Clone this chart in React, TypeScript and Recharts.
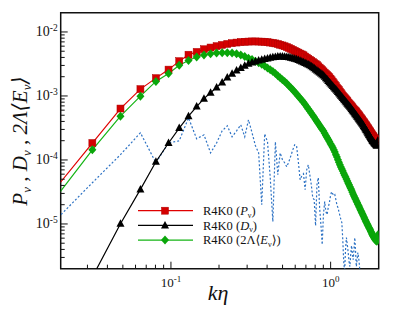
import { ComposedChart, Line, XAxis, YAxis, ReferenceArea } from "recharts";

// wavenumber grid k*eta
const K = [
  0.0161, 0.0322, 0.0483, 0.0644, 0.0805, 0.0966, 0.1127, 0.1288, 0.1449, 0.161,
  0.1771, 0.1932, 0.2093, 0.2254, 0.2415, 0.2576, 0.2737, 0.2898, 0.3059, 0.322,
  0.3381, 0.3542, 0.3703, 0.3864, 0.4025, 0.4186, 0.4347, 0.4508, 0.4669, 0.483,
  0.4991, 0.5152, 0.5313, 0.5474, 0.5635, 0.5796, 0.5957, 0.6118, 0.6279, 0.644,
  0.6601, 0.6762, 0.6923, 0.7084, 0.7245, 0.7406, 0.7567, 0.7728, 0.7889, 0.805,
  0.8211, 0.8372, 0.8533, 0.8694, 0.8855, 0.9016, 0.9177, 0.9338, 0.9499, 0.966,
  0.9821, 0.9982, 1.0143, 1.0304, 1.0465, 1.0626, 1.0787, 1.0948, 1.1109, 1.127,
  1.1431, 1.1592, 1.1753, 1.1914, 1.2075, 1.2236, 1.2397, 1.2558, 1.2719, 1.288,
  1.3041, 1.3202, 1.3363, 1.3524, 1.3685, 1.3846, 1.4007, 1.4168, 1.4329, 1.449,
  1.4651, 1.4812, 1.4973, 1.5134, 1.5295, 1.5456, 1.5617, 1.5778, 1.5939, 1.61,
  1.6261, 1.6422, 1.6583, 1.6744, 1.6905, 1.7066, 1.7227, 1.7388, 1.7549, 1.771,
  1.7871, 1.8032, 1.8193, 1.8354, 1.8515, 1.8676, 1.8837, 1.8998, 1.9159, 1.932,
  1.9481, 1.9642, 1.9803,
];

// R4K0 (P_nu)
const P_NU = [
  2.18e-5, 1.84e-4, 6.36e-4, 1.28e-3, 1.9e-3, 2.58e-3, 3.5e-3, 4.41e-3, 4.88e-3, 5.37e-3,
  5.71e-3, 6.0e-3, 6.27e-3, 6.5e-3, 6.69e-3, 6.83e-3, 6.96e-3, 7.03e-3, 7.08e-3, 7.11e-3,
  7.11e-3, 7.08e-3, 7.06e-3, 7.01e-3, 6.93e-3, 6.83e-3, 6.74e-3, 6.62e-3, 6.48e-3, 6.32e-3,
  6.16e-3, 5.98e-3, 5.81e-3, 5.63e-3, 5.45e-3, 5.26e-3, 5.07e-3, 4.91e-3, 4.75e-3, 4.6e-3,
  4.46e-3, 4.32e-3, 4.13e-3, 3.97e-3, 3.8e-3, 3.67e-3, 3.53e-3, 3.4e-3, 3.27e-3, 3.15e-3,
  3.05e-3, 2.9e-3, 2.77e-3, 2.65e-3, 2.53e-3, 2.42e-3, 2.31e-3, 2.21e-3, 2.13e-3, 2.04e-3,
  1.96e-3, 1.86e-3, 1.76e-3, 1.67e-3, 1.58e-3, 1.5e-3, 1.42e-3, 1.35e-3, 1.29e-3, 1.23e-3,
  1.17e-3, 1.11e-3, 1.06e-3, 1.01e-3, 9.68e-4, 9.31e-4, 8.95e-4, 8.6e-4, 8.27e-4, 7.95e-4,
  7.69e-4, 7.4e-4, 7.14e-4, 6.88e-4, 6.64e-4, 6.4e-4, 6.18e-4, 5.98e-4, 5.79e-4, 5.59e-4,
  5.39e-4, 5.22e-4, 5.0e-4, 4.84e-4, 4.65e-4, 4.49e-4, 4.33e-4, 4.18e-4, 4.03e-4, 3.9e-4,
  3.76e-4, 3.63e-4, 3.5e-4, 3.39e-4, 3.27e-4, 3.15e-4, 3.05e-4, 2.94e-4, 2.84e-4, 2.75e-4,
  2.66e-4, 2.56e-4, 2.48e-4, 2.4e-4, 2.33e-4, 2.25e-4, 2.18e-4, 2.11e-4, 2.05e-4, 1.98e-4,
  1.85e-4, 1.89e-4, 2.1e-4,
];

// R4K0 (D_nu)
const D_NU = [
  8e-8, 1.48e-6, 1.01e-5, 3.47e-5, 9.37e-5, 1.84e-4, 3.15e-4, 4.84e-4, 6.83e-4, 9.08e-4,
  1.12e-3, 1.36e-3, 1.63e-3, 1.95e-3, 2.23e-3, 2.5e-3, 2.74e-3, 2.97e-3, 3.18e-3, 3.33e-3,
  3.45e-3, 3.57e-3, 3.68e-3, 3.78e-3, 3.86e-3, 3.94e-3, 4.02e-3, 4.07e-3, 4.12e-3, 4.13e-3,
  4.13e-3, 4.1e-3, 4.06e-3, 4.02e-3, 3.96e-3, 3.89e-3, 3.82e-3, 3.74e-3, 3.64e-3, 3.54e-3,
  3.45e-3, 3.37e-3, 3.27e-3, 3.19e-3, 3.11e-3, 3.02e-3, 2.92e-3, 2.81e-3, 2.7e-3, 2.6e-3,
  2.51e-3, 2.42e-3, 2.33e-3, 2.24e-3, 2.16e-3, 2.09e-3, 1.99e-3, 1.89e-3, 1.81e-3, 1.72e-3,
  1.64e-3, 1.57e-3, 1.5e-3, 1.43e-3, 1.37e-3, 1.31e-3, 1.26e-3, 1.21e-3, 1.15e-3, 1.1e-3,
  1.05e-3, 1.01e-3, 9.68e-4, 9.31e-4, 8.88e-4, 8.54e-4, 8.21e-4, 7.89e-4, 7.59e-4, 7.29e-4,
  7.03e-4, 6.79e-4, 6.52e-4, 6.27e-4, 6.0e-4, 5.77e-4, 5.55e-4, 5.33e-4, 5.14e-4, 4.94e-4,
  4.75e-4, 4.59e-4, 4.41e-4, 4.25e-4, 4.09e-4, 3.94e-4, 3.8e-4, 3.67e-4, 3.54e-4, 3.4e-4,
  3.26e-4, 3.13e-4, 3.0e-4, 2.9e-4, 2.78e-4, 2.67e-4, 2.57e-4, 2.46e-4, 2.38e-4, 2.29e-4,
  2.2e-4, 2.12e-4, 2.04e-4, 1.97e-4, 1.92e-4, 1.87e-4, 1.83e-4, 1.78e-4, 1.74e-4, 1.7e-4,
  1.67e-4, 1.76e-4, 2.03e-4,
];

// R4K0 (2 Lambda <E_nu>)
const E_NU = [
  1.51e-5, 1.44e-4, 4.84e-4, 9.93e-4, 1.69e-3, 2.24e-3, 3.03e-3, 3.59e-3, 4.07e-3, 4.38e-3,
  4.57e-3, 4.69e-3, 4.74e-3, 4.75e-3, 4.69e-3, 4.55e-3, 4.35e-3, 4.12e-3, 3.9e-3, 3.71e-3,
  3.5e-3, 3.31e-3, 3.12e-3, 2.94e-3, 2.74e-3, 2.56e-3, 2.41e-3, 2.24e-3, 2.07e-3, 1.93e-3,
  1.8e-3, 1.68e-3, 1.56e-3, 1.44e-3, 1.34e-3, 1.25e-3, 1.15e-3, 1.07e-3, 9.93e-4, 9.24e-4,
  8.57e-4, 7.95e-4, 7.34e-4, 6.79e-4, 6.27e-4, 5.81e-4, 5.39e-4, 5.01e-4, 4.63e-4, 4.28e-4,
  4.0e-4, 3.71e-4, 3.47e-4, 3.22e-4, 3.01e-4, 2.83e-4, 2.61e-4, 2.42e-4, 2.25e-4, 2.09e-4,
  1.94e-4, 1.8e-4, 1.68e-4, 1.57e-4, 1.45e-4, 1.33e-4, 1.21e-4, 1.11e-4, 1.01e-4, 9.24e-5,
  8.41e-5, 7.78e-5, 7.24e-5, 6.74e-5, 6.22e-5, 5.79e-5, 5.41e-5, 5.04e-5, 4.69e-5, 4.36e-5,
  4.09e-5, 3.8e-5, 3.58e-5, 3.35e-5, 3.12e-5, 2.9e-5, 2.73e-5, 2.57e-5, 2.44e-5, 2.29e-5,
  2.16e-5, 2.04e-5, 1.92e-5, 1.82e-5, 1.71e-5, 1.62e-5, 1.54e-5, 1.46e-5, 1.38e-5, 1.31e-5,
  1.24e-5, 1.17e-5, 1.11e-5, 1.06e-5, 1.01e-5, 9.61e-6, 9.21e-6, 8.76e-6, 8.39e-6, 8.03e-6,
  7.64e-6, 7.26e-6, 6.91e-6, 6.61e-6, 6.38e-6, 6.16e-6, 5.94e-6, 5.73e-6, 5.57e-6, 5.45e-6,
  5.37e-6, 5.69e-6, 6.81e-6,
];

// dashed blue curve (no legend entry)
const DASHED = [
  7.59e-6, 4.41e-5, 1.21e-4, 2.66e-4, 9.04e-5, 1.85e-4, 1.99e-4, 4.55e-4, 2.14e-4, 2.47e-4,
  1.29e-4, 1.85e-4, 2.85e-4, 3.42e-4, 2.3e-4, 2.85e-4, 3.54e-4, 2.3e-4, 4.24e-4, 2.66e-4,
  1.67e-4, 1.29e-4, 2.0e-5, 2.56e-4, 1.92e-4, 5.28e-5, 1.09e-5, 1.92e-4, 5.88e-5, 1.29e-4,
  1.01e-4, 9.04e-5, 7.83e-5, 9.37e-5, 1.16e-4, 1.44e-4, 1.73e-4, 1.67e-4, 9.37e-5, 4.91e-5,
  5.67e-5, 6.09e-5, 3.43e-5, 7.03e-5, 8.41e-5, 5.88e-5, 4.1e-5, 2.57e-5, 2.39e-5, 9.41e-6,
  4.1e-5, 5.28e-5, 1.8e-5, 9.75e-6, 4.75e-6, 1.4e-5, 2.23e-5, 1.56e-5, 1.4e-5, 1.8e-5,
  2.15e-5, 2.76e-5, 3.19e-5, 2.97e-5, 2.76e-5, 2.86e-5, 2.39e-5, 2.0e-5, 1.8e-5, 1.56e-5,
  1.35e-5, 1.17e-5, 1.05e-5, 5.69e-6, 2.58e-6, 1.8e-6, 3.97e-6, 6.11e-6, 4.75e-6, 3.57e-6,
  2.58e-6, 2.16e-6, 3.32e-6, 4.59e-6, 3.44e-6, 2.77e-6, 3.97e-6, 6.11e-6, 3.7e-6, 2.16e-6,
  2.77e-6, 3.57e-6, 2.98e-6, 2.32e-6, 1.62e-6, 1.4e-6, 9e-7, 1.2e-6, 6e-7, 8e-7,
  4e-7, 7e-7, 3e-7, 5e-7, 2.5e-7, 4e-7, 2e-7, 3e-7, 1.5e-7, 2.5e-7,
  1.2e-7, 2e-7, 1e-7, 1.5e-7, 8e-8, 1.2e-7, 7e-8, 1e-7, 6e-8, 8e-8,
  5e-8, 7e-8, 5e-8,
];

const X_TICKS = [
  0.03, 0.04, 0.05, 0.06, 0.07, 0.08, 0.09, 0.1,
  0.2, 0.3, 0.4, 0.5, 0.6, 0.7, 0.8, 0.9, 1,
];
const Y_TICKS = [
  3e-6, 4e-6, 5e-6, 6e-6, 7e-6, 8e-6, 9e-6, 1e-5,
  2e-5, 3e-5, 4e-5, 5e-5, 6e-5, 7e-5, 8e-5, 9e-5, 1e-4,
  2e-4, 3e-4, 4e-4, 5e-4, 6e-4, 7e-4, 8e-4, 9e-4, 1e-3,
  2e-3, 3e-3, 4e-3, 5e-3, 6e-3, 7e-3, 8e-3, 9e-3, 1e-2,
];
const X_DOMAIN = [0.0204, 2];
const Y_DOMAIN = [2e-6, 0.02];

const RED = "#d40000";
const GREEN = "#0aa60a";
const BLUE = "#2d72c4";
const FONT = "'Liberation Serif', 'DejaVu Serif', serif";

const data = K.map((k, i) => ({
  k,
  p: P_NU[i],
  d: D_NU[i],
  e: E_NU[i],
  b: DASHED[i],
}));

function decade(v: number) {
  const e = Math.log10(v);
  return Math.abs(e - Math.round(e)) < 1e-6 ? Math.round(e) : null;
}

function XTick(props: any) {
  const { x, y, payload } = props;
  const exp = decade(payload.value);
  const major = exp !== null;
  return (
    <g>
      <line x1={x} x2={x} y1={y} y2={y - (major ? 7 : 4)} stroke="#111" strokeWidth={1} />
      {major && (
        <text x={x} y={y + 18} textAnchor="middle" fontFamily={FONT} fontSize={13} fill="#111">
          10
          <tspan dy={-5} fontSize={9}>{exp}</tspan>
        </text>
      )}
    </g>
  );
}

function YTick(props: any) {
  const { x, y, payload } = props;
  const exp = decade(payload.value);
  const major = exp !== null;
  return (
    <g>
      <line x1={x} x2={x + (major ? 7 : 4)} y1={y} y2={y} stroke="#111" strokeWidth={1} />
      {major && (
        <text x={x - 3} y={y + 4.5} textAnchor="end" fontFamily={FONT} fontSize={14} fill="#111">
          10
          <tspan dy={-5} fontSize={9.5}>{exp}</tspan>
        </text>
      )}
    </g>
  );
}

function Square({ cx, cy }: { cx: number; cy: number }) {
  return <rect x={cx - 3.5} y={cy - 3.5} width={7} height={7} fill={RED} stroke="#b00000" strokeWidth={0.5} />;
}

function Triangle({ cx, cy }: { cx: number; cy: number }) {
  return <polygon points={`${cx},${cy - 4.5} ${cx - 4},${cy + 3} ${cx + 4},${cy + 3}`} fill="#000" />;
}

function Diamond({ cx, cy }: { cx: number; cy: number }) {
  return <polygon points={`${cx},${cy - 4.5} ${cx + 4},${cy} ${cx},${cy + 4.5} ${cx - 4},${cy}`} fill={GREEN} />;
}

const markerDot = (Shape: any, name: string) => (props: any) => {
  const { cx, cy, index } = props;
  if (cx == null || cy == null) return <g key={`${name}-${index}`} />;
  return <Shape key={`${name}-${index}`} cx={cx} cy={cy} />;
};

const LEGEND = [
  { line: "#e00000", Shape: Square, sub: "P", pre: "", post: "" },
  { line: "#000", Shape: Triangle, sub: "D", pre: "", post: "" },
  { line: "#14b414", Shape: Diamond, sub: "E", pre: "2Λ⟨", post: "⟩" },
];

export default function App() {
  return (
    <div style={{ position: "absolute", left: 0, top: 0, width: 399, height: 310, background: "#fff" }}>
      <ComposedChart
        width={399}
        height={310}
        data={data}
        margin={{ top: 12.7, right: 20.3, bottom: 11.3, left: 10.7 }}
      >
        <XAxis
          dataKey="k"
          type="number"
          scale="log"
          domain={X_DOMAIN}
          allowDataOverflow
          ticks={X_TICKS}
          interval={0}
          tick={(p: any) => <XTick {...p} />}
          tickLine={false}
          axisLine={false}
          tickSize={0}
          tickMargin={0}
          height={30}
        />
        <YAxis
          type="number"
          scale="log"
          domain={Y_DOMAIN}
          allowDataOverflow
          ticks={Y_TICKS}
          interval={0}
          tick={(p: any) => <YTick {...p} />}
          tickLine={false}
          axisLine={false}
          tickSize={0}
          tickMargin={0}
          width={50}
        />
        <ReferenceArea
          x1={X_DOMAIN[0]}
          x2={X_DOMAIN[1]}
          y1={Y_DOMAIN[0]}
          y2={Y_DOMAIN[1]}
          fill="none"
          stroke="#111"
          strokeWidth={1.5}
          ifOverflow="visible"
        />
        <Line dataKey="b" type="linear" stroke={BLUE} strokeWidth={1.2} strokeDasharray="2 2" dot={false} isAnimationActive={false} />
        <Line dataKey="p" type="linear" stroke="#e00000" strokeWidth={1.2} dot={markerDot(Square, "sq")} isAnimationActive={false} />
        <Line dataKey="e" type="linear" stroke="#14b414" strokeWidth={1.2} dot={markerDot(Diamond, "dm")} isAnimationActive={false} />
        <Line dataKey="d" type="linear" stroke="#000" strokeWidth={1.2} dot={markerDot(Triangle, "tr")} isAnimationActive={false} />
      </ComposedChart>
      <svg width={399} height={310} style={{ position: "absolute", left: 0, top: 0, pointerEvents: "none" }}>
        <text
          transform="rotate(-90)"
          x={-141}
          y={26.5}
          textAnchor="middle"
          fontFamily={FONT}
          fontStyle="italic"
          fontSize={21}
          fill="#111"
        >
          P<tspan dy={4} fontSize={13}>ν</tspan>
          <tspan dy={-4}> , D</tspan>
          <tspan dy={4} fontSize={13}>ν</tspan>
          <tspan dy={-4}> , 2Λ⟨E</tspan>
          <tspan dy={4} fontSize={13}>ν</tspan>
          <tspan dy={-4}>⟩</tspan>
        </text>
        <text x={218} y={300} textAnchor="middle" fontFamily={FONT} fontStyle="italic" fontSize={22} fill="#111">
          kη
        </text>
        {LEGEND.map((item, i) => {
          const y = 210.7 + i * 14.7;
          const Shape = item.Shape;
          return (
            <g key={i}>
              <line x1={138} x2={193} y1={y} y2={y} stroke={item.line} strokeWidth={1.2} />
              <Shape cx={165} cy={y} />
              <text x={203} y={y + 4.3} fontFamily={FONT} fontSize={12.5} fill="#111">
                R4K0 ({item.pre}
                <tspan fontStyle="italic">{item.sub}</tspan>
                <tspan dy={2.5} fontSize={8}>ν</tspan>
                <tspan dy={-2.5}>{item.post})</tspan>
              </text>
            </g>
          );
        })}
      </svg>
    </div>
  );
}
